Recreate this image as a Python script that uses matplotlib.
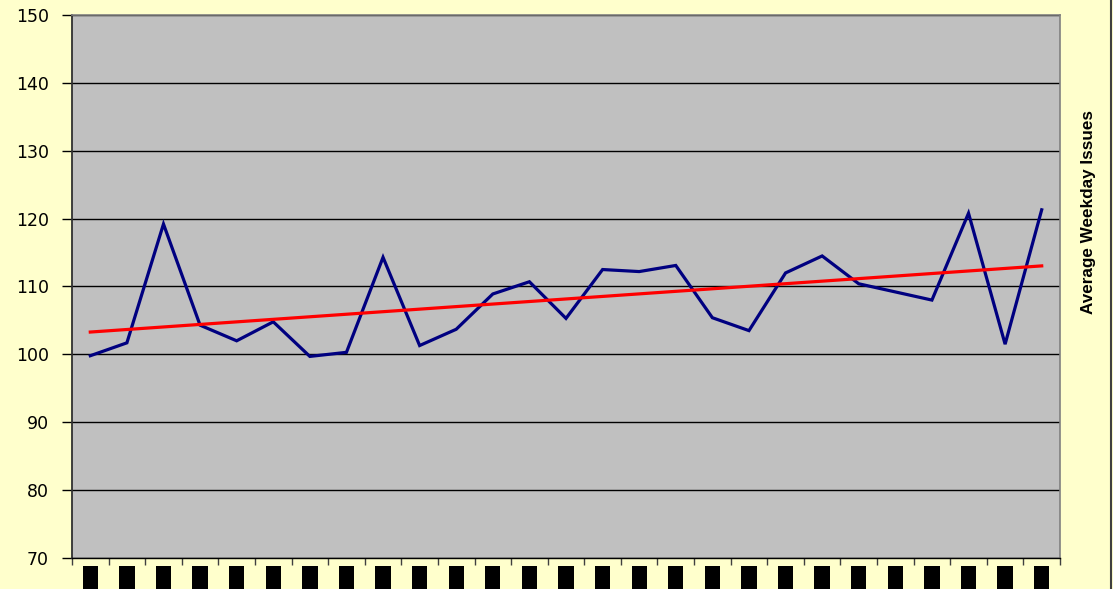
import numpy as np
import matplotlib
matplotlib.use("Agg")
from matplotlib import pyplot as plt
from matplotlib.patches import Rectangle
from matplotlib.lines import Line2D

# average weekday issues, one value per period
issues = [99.8, 101.7, 119.2, 104.3, 102.0, 104.8, 99.7, 100.3, 114.3,
          101.3, 103.7, 108.9, 110.7, 105.3, 112.5, 112.2, 113.1, 105.4,
          103.5, 112.0, 114.5, 110.4, 109.2, 108.0, 120.8, 101.5, 121.3]
y_ticks = [70, 80, 90, 100, 110, 120, 130, 140, 150]

plt.rcParams['font.family'] = ['Liberation Sans', 'DejaVu Sans']

n = len(issues)
x = np.arange(n)

# linear trendline through the series
slope, intercept = np.polyfit(x, issues, 1)
trend = slope * x + intercept

fig = plt.figure(figsize=(11.13, 5.89), dpi=100, facecolor='#FFFFCC')
ax = fig.add_axes([72 / 1113, 1 - 558 / 589, 988 / 1113, 543 / 589])
ax.set_facecolor('#C0C0C0')

ax.plot(x, issues, color='#000080', lw=2.3, solid_joinstyle='miter', zorder=3)
ax.plot(x, trend, color='#FF0000', lw=2.3, zorder=4)

ax.set_xlim(-0.5, n - 0.5)
ax.set_ylim(70, 150)
ax.set_yticks(y_ticks)
ax.set_yticklabels([str(v) for v in y_ticks], family='DejaVu Sans',
                   fontsize=12.5)
ax.yaxis.grid(True, color='black', lw=1.0)
ax.set_axisbelow(True)

# category boundaries carry the x tick marks
ax.set_xticks(np.arange(n + 1) - 0.5)
ax.set_xticklabels([])
ax.tick_params(axis='x', length=5, width=1, color='#404040', direction='out')
ax.tick_params(axis='y', length=7, width=1, color='black', direction='out',
               pad=9.5)

for side in ('top', 'right'):
    ax.spines[side].set_color('#808080')
    ax.spines[side].set_linewidth(1.2)
ax.spines['left'].set_color('#303030')
ax.spines['left'].set_linewidth(1.3)
ax.spines['bottom'].set_color('black')
ax.spines['bottom'].set_linewidth(1.0)

# solid blocks under each category
for i in x:
    ax.add_patch(Rectangle((i - 0.21, -0.08), 0.42, 0.065,
                           transform=ax.get_xaxis_transform(),
                           facecolor='black', edgecolor='none', clip_on=False))

fig.text(1088 / 1113, 1 - 212 / 589, 'Average Weekday Issues', rotation=90,
         ha='center', va='center', fontsize=12.3, fontweight='bold')

fig.add_artist(Line2D([0.9985, 0.9985], [0, 1], transform=fig.transFigure,
                      color='#404040', lw=1.5))

fig.savefig('out.png', dpi=100, facecolor=fig.get_facecolor())
